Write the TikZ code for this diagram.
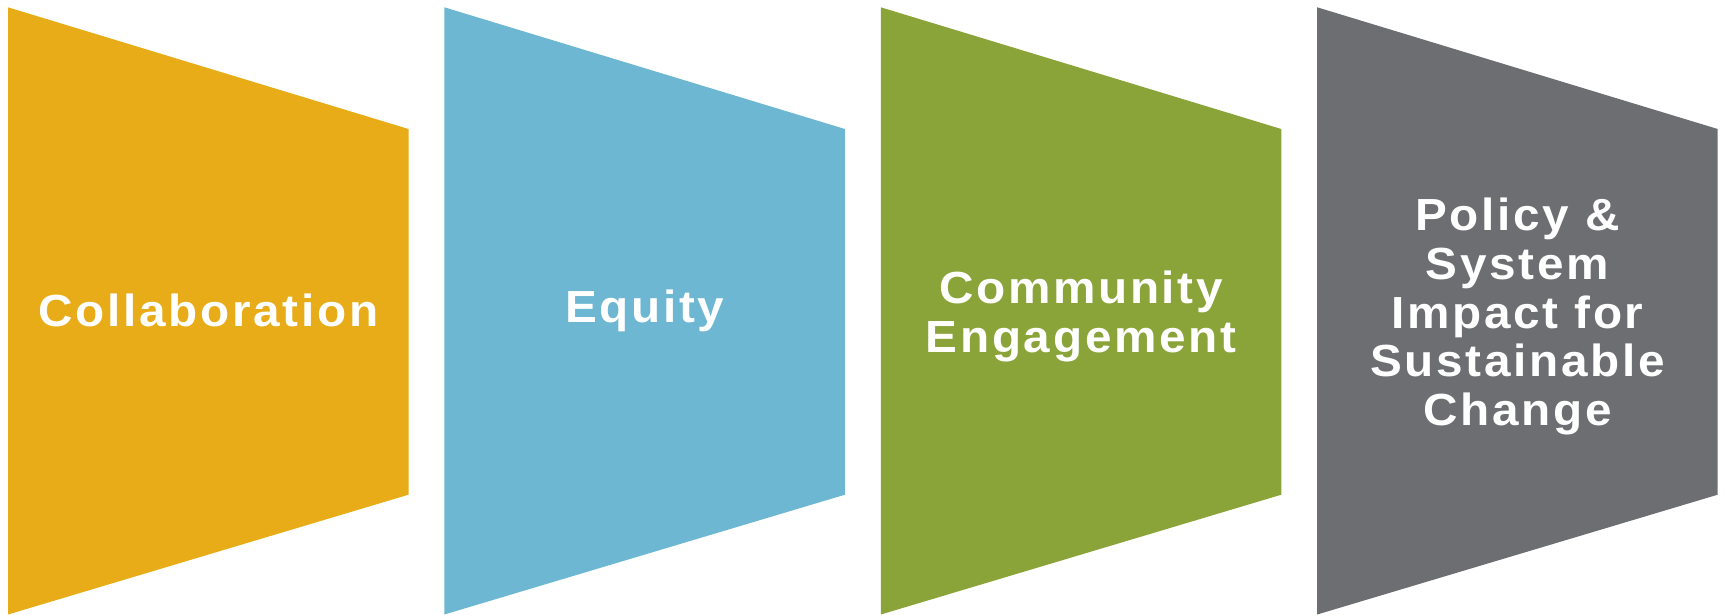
\documentclass[tikz,border=0pt]{standalone}
\usepackage{fontspec}
\setmainfont{Liberation Sans}[LetterSpace=6,FakeStretch=1.06]
\definecolor{cgold}{HTML}{E7AC17}
\definecolor{cblue}{HTML}{6DB7D3}
\definecolor{cgreen}{HTML}{8BA43A}
\definecolor{cgray}{HTML}{6D6E71}
\tikzset{
  chev/.style={fill=#1, draw=none},
  lbl/.style={text=white, font=\fontsize{45}{48.7}\selectfont\bfseries, align=center, inner sep=0pt}
}
\begin{document}
\begin{tikzpicture}[x=1pt,y=-1pt]
\useasboundingbox (0,0) rectangle (1725,614);
\foreach \L/\c [count=\i] in {8/cgold,444.4/cblue,880.8/cgreen,1317.2/cgray}{
  \fill[chev=\c] (\L,7.3) -- (\L+400.5,129) -- (\L+400.5,494.7) -- (\L,614.5) -- cycle;
  \coordinate (c\i) at (\L+200.25,310.5);
}
\node[lbl] (t1) at (c1) {Collaboration};
\node[lbl] (t2) at (c2) {Equity};
\node[lbl, yshift=-6pt] (t3) at (c3) {Community\\Engagement};
\node[lbl, yshift=-6pt] (t4) at (c4) {Policy \&\\System\\Impact for\\Sustainable\\Change};
\end{tikzpicture}
\end{document}
